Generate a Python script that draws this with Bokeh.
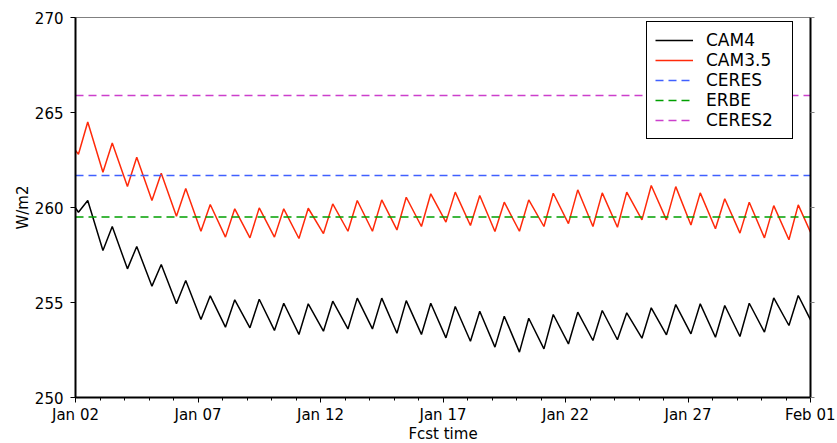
import datetime as dt
from bokeh.plotting import figure
from bokeh.models import (Range1d, FixedTicker, DatetimeTickFormatter, LinearAxis)
from bokeh.embed import file_html
from bokeh.resources import INLINE

# ---------------- data ----------------
start_date = dt.datetime(2009, 1, 2)
end_date = dt.datetime(2009, 2, 1)
n_days = 30
trough_hour_frac = 0.12   # time of daily minimum within each day
peak_hour_frac = 0.50     # time of daily maximum within each day

cam4_first = 259.98
cam4_troughs = [259.75, 257.74, 256.77, 255.86, 254.93, 254.10, 253.70, 253.67, 253.53, 253.32,
                253.49, 253.61, 253.61, 253.38, 253.32, 253.14, 252.96, 252.65, 252.39, 252.56,
                252.82, 253.00, 253.04, 253.12, 253.30, 253.35, 253.17, 253.21, 253.44, 253.79]
cam4_peaks = [260.37, 259.00, 257.95, 257.00, 256.16, 255.35, 255.14, 255.17, 254.96, 254.93,
              255.07, 255.23, 255.23, 255.10, 254.96, 254.79, 254.54, 254.28, 254.17, 254.37,
              254.49, 254.58, 254.46, 254.72, 254.89, 254.93, 254.84, 254.96, 255.24, 255.37]
cam4_last = 254.09

cam35_first = 263.00
cam35_troughs = [262.80, 261.86, 261.10, 260.37, 259.54, 258.75, 258.44, 258.40, 258.44, 258.37,
                 258.63, 258.75, 258.75, 258.82, 259.00, 259.23, 259.05, 258.74, 258.75, 259.00,
                 259.15, 259.00, 258.96, 259.35, 259.35, 259.08, 258.88, 258.65, 258.40, 258.30]
cam35_peaks = [264.50, 263.40, 262.65, 261.80, 261.00, 260.16, 259.93, 259.98, 259.93, 259.96,
               260.19, 260.37, 260.40, 260.54, 260.72, 260.81, 260.63, 260.28, 260.40, 260.75,
               260.93, 260.77, 260.81, 261.16, 261.10, 260.77, 260.46, 260.28, 260.10, 260.14]
cam35_last = 258.70

ceres = 261.68
erbe = 259.50
ceres2 = 265.90

y_ticks = [250, 255, 260, 265, 270]
x_major_days = [0, 5, 10, 15, 20, 25, 30]


# ---------------- build series ----------------
def day(t):
    return start_date + dt.timedelta(days=t)


def build(first, troughs, peaks, last):
    ts = [0.0]
    vs = [first]
    for k in range(n_days):
        ts += [k + trough_hour_frac, k + peak_hour_frac]
        vs += [troughs[k], peaks[k]]
    ts.append(float(n_days))
    vs.append(last)
    return [day(t) for t in ts], vs


x4, y4 = build(cam4_first, cam4_troughs, cam4_peaks, cam4_last)
x35, y35 = build(cam35_first, cam35_troughs, cam35_peaks, cam35_last)

FONT = "DejaVu Sans"

p = figure(frame_width=735, frame_height=380, output_backend="svg", toolbar_location=None,
           x_axis_type="datetime",
           x_range=Range1d(start_date, end_date), y_range=Range1d(250, 270),
           min_border_left=75, min_border_right=25, min_border_top=17, min_border_bottom=40)
p.xgrid.visible = False
p.ygrid.visible = False
p.outline_line_color = "#808080"
p.outline_line_width = 1
p.background_fill_color = "white"
p.border_fill_color = "white"

p.line(x4, y4, line_color="black", line_width=1.5, legend_label="CAM4")
p.line(x35, y35, line_color="#ff2a0a", line_width=1.5, legend_label="CAM3.5")
xs_full = [start_date, end_date]
p.line(xs_full, [ceres, ceres], line_color="#4060ff", line_width=1.5, line_dash="8 5",
       legend_label="CERES")
p.line(xs_full, [erbe, erbe], line_color="#00a000", line_width=1.5, line_dash="8 5",
       legend_label="ERBE")
p.line(xs_full, [ceres2, ceres2], line_color="#cc3fcc", line_width=1.5, line_dash="8 5",
       legend_label="CERES2")


def ms(d):
    return (d - dt.datetime(1970, 1, 1)).total_seconds() * 1000.0


# x axis
xa = p.xaxis[0]
xa.ticker = FixedTicker(ticks=[ms(day(d)) for d in x_major_days],
                        minor_ticks=[ms(day(d)) for d in range(n_days + 1)])
fmt = "%b %d"
xa.formatter = DatetimeTickFormatter(days=fmt, months=fmt, hours=fmt, years=fmt,
                                     hourmin=fmt, minutes=fmt, minsec=fmt, seconds=fmt,
                                     milliseconds=fmt, microseconds=fmt)
xa.axis_label = "Fcst time"
xa.axis_line_width = 2
xa.axis_line_color = "black"
xa.major_tick_in = 0
xa.major_tick_out = 5
xa.minor_tick_in = 0
xa.minor_tick_out = 3
xa.major_tick_line_color = "black"
xa.minor_tick_line_color = "black"
xa.major_label_standoff = 3
xa.axis_label_standoff = -2
xa.major_label_text_font = FONT
xa.major_label_text_font_size = "15px"
xa.major_label_text_color = "black"
xa.axis_label_text_font = FONT
xa.axis_label_text_font_size = "15px"
xa.axis_label_text_font_style = "normal"
xa.axis_label_text_color = "black"

# y axis
ya = p.yaxis[0]
ya.ticker = FixedTicker(ticks=y_ticks, minor_ticks=[])
ya.axis_label = "W/m2"
ya.axis_line_width = 2
ya.axis_line_color = "black"
ya.major_tick_in = 0
ya.major_tick_out = 5
ya.minor_tick_line_color = None
ya.major_label_standoff = 7
ya.axis_label_standoff = 0
ya.major_label_text_font = FONT
ya.major_label_text_font_size = "15px"
ya.major_label_text_color = "black"
ya.axis_label_text_font = FONT
ya.axis_label_text_font_size = "15px"
ya.axis_label_text_font_style = "normal"
ya.axis_label_text_color = "black"

# right spine
ra = LinearAxis(ticker=FixedTicker(ticks=y_ticks, minor_ticks=[]))
ra.axis_line_width = 2
ra.axis_line_color = "black"
ra.major_tick_in = 0
ra.major_tick_out = 4
ra.major_tick_line_color = "#808080"
ra.minor_tick_line_color = None
ra.major_label_text_font_size = "0px"
ra.major_label_text_color = None
ra.major_label_standoff = 0
p.add_layout(ra, "right")

# legend
lg = p.legend[0]
lg.location = (571, 258)
lg.border_line_color = "black"
lg.border_line_width = 1.5
lg.border_line_alpha = 1
lg.background_fill_alpha = 1
lg.label_text_font = FONT
lg.label_text_font_size = "17px"
lg.label_text_color = "black"
lg.glyph_width = 38
lg.glyph_height = 18
lg.label_height = 18
lg.label_width = 78
lg.spacing = 0
lg.padding = 8
lg.margin = 0
lg.label_standoff = 13

open("out.html", "w").write(file_html(p, INLINE))
